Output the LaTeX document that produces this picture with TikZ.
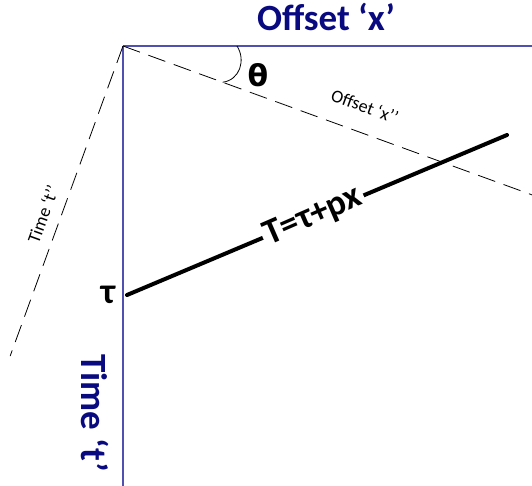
\documentclass[tikz,border=0pt]{standalone}
\usepackage{fontspec}
\setmainfont{Carlito}
\newfontfamily\symfont{DejaVu Sans}
\usetikzlibrary{calc}
\definecolor{navytxt}{RGB}{10,10,128}
\definecolor{axiscol}{RGB}{80,80,176}
\begin{document}
\begin{tikzpicture}[x=1pt,y=-1pt,
  axis/.style={draw=axiscol,line width=1.1pt},
  dashline/.style={draw=black,line width=0.8pt,dash pattern=on 18pt off 9pt},
  bigtitle/.style={text=navytxt,font=\bfseries\fontsize{37}{39}\selectfont,inner sep=0pt},
  smalllbl/.style={font=\fontsize{18}{19}\selectfont,inner sep=0pt}]
\useasboundingbox (0,0) rectangle (532,486);
\coordinate (O) at (123,46);
\coordinate (xend) at (532,46);
\coordinate (tend) at (123,486);
\coordinate (xpend) at ($(O)+(20:436)$);
\coordinate (tpend) at ($(O)+(110:330)$);
\path[axis] (O) -- (xend);
\path[axis] (O) -- (tend);
\path[dashline] (O) -- (xpend);
\path[dashline] (O) -- (tpend);
\coordinate (arcA) at (237,46);
\coordinate (arcB) at ($(O)+(20:106)$);
\draw[line width=0.8pt] (arcA) .. controls (246,60) and (240,80) .. (arcB);
\node[bigtitle] (xlbl) at (326,17) {Offset ‘x’};
\node[bigtitle,rotate=-90] (tlbl) at (95,413) {Time ‘t’};
\node[font=\symfont\bfseries\fontsize{30}{32}\selectfont,inner sep=0pt] (theta) at (258,75) {θ};
\node[smalllbl,rotate=-20] (xplbl) at (365,106) {Offset ‘x’’};
\node[smalllbl,rotate=70] (tplbl) at (43,214) {Time ‘t’’};
\coordinate (a) at (127,295);
\coordinate (b) at (507,135);
\path[draw=black,line width=4pt,line cap=round] (a) -- (b);
\node[fill=white,inner xsep=3pt,inner ysep=0pt,rotate=23.5,font=\bfseries\fontsize{36}{38}\selectfont] (eq) at ($(a)!0.49!(b)$) {T=τ+px};
\node[font=\bfseries\fontsize{36}{38}\selectfont,inner sep=0pt] (tau) at (108,295) {τ};
\end{tikzpicture}
\end{document}
